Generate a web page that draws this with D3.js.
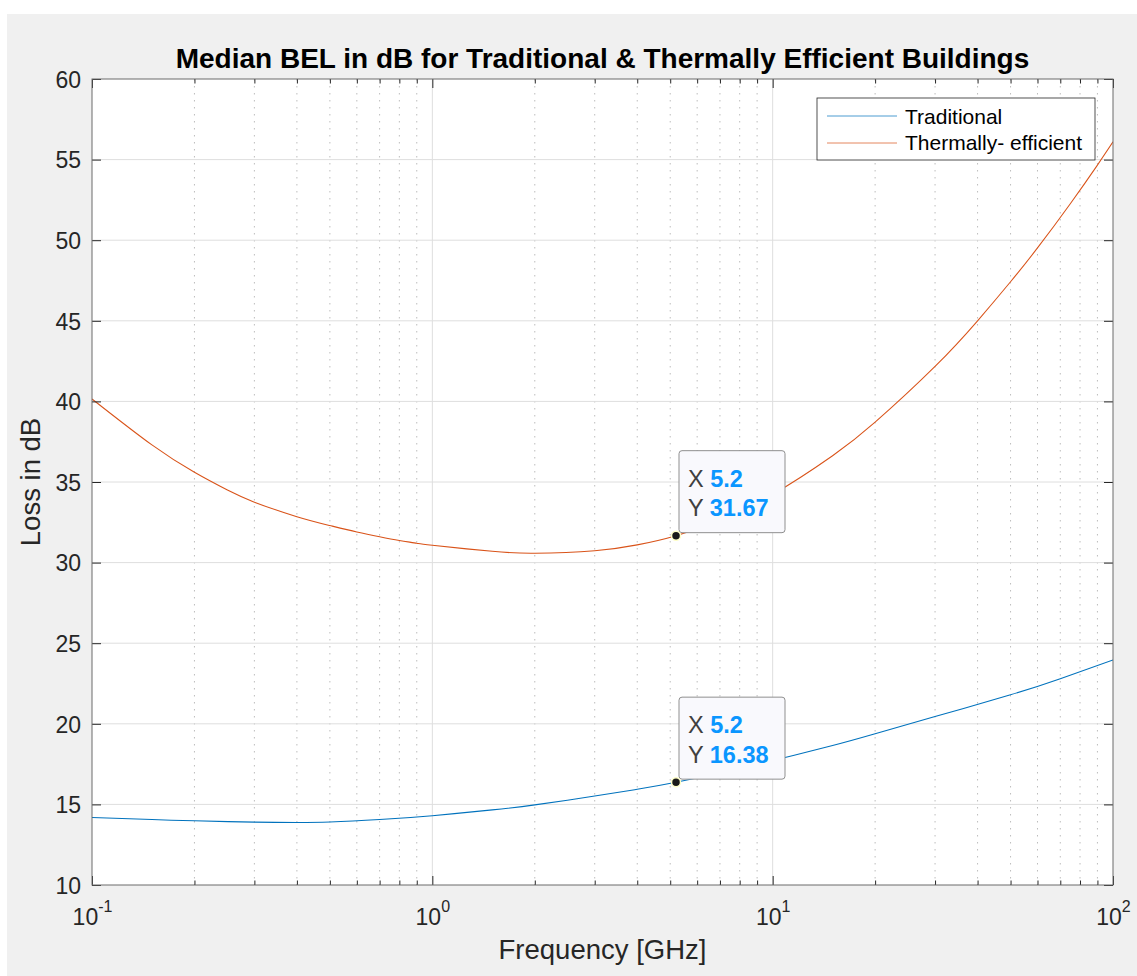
<!DOCTYPE html>
<html>
  <head>
    <meta charset="utf-8">
    <script src="https://cdn.jsdelivr.net/npm/d3@7"></script>
    <style>
      body { margin: 0; background: #fff; }
      svg { display: block; font-family: "Liberation Sans", Arial, Helvetica, sans-serif; }
    </style>
  </head>
  <body>
    <script>

    // Values (frequency in GHz, loss in dB)
    var freqTrad = [0.1, 0.15, 0.2, 0.3, 0.4, 0.5, 0.7, 1, 1.5, 2, 3, 4, 5.2, 7, 10, 15, 20, 30, 50, 70, 100];
    var lossTrad = [14.19, 14.06, 13.98, 13.9, 13.88, 13.91, 14.06, 14.3, 14.66, 14.97, 15.52, 15.94, 16.38, 16.95, 17.72, 18.65, 19.38, 20.45, 21.8, 22.8, 23.96];

    var freqTherm = [0.1, 0.15, 0.2, 0.25, 0.3, 0.4, 0.5, 0.6, 0.7, 0.8, 0.9, 1, 1.5, 2, 3, 4, 5.2, 7, 10, 15, 20, 30, 40, 50, 60, 75, 90, 100];
    var lossTherm = [40.15, 37.3, 35.6, 34.5, 33.75, 32.85, 32.3, 31.9, 31.6, 31.37, 31.2, 31.07, 30.7, 30.58, 30.74, 31.1, 31.67, 32.64, 34.23, 36.63, 38.71, 42.17, 45.0, 47.42, 49.52, 52.28, 54.66, 56.1];

    var seriesNames = ["Traditional", "Thermally- efficient"];
    var seriesColors = ["#0072BD", "#D95319"];

    // Data tips
    var tipFreq = 5.2;
    var tipValues = [16.38, 31.67];

    // Ticks
    var yTicks = [10, 15, 20, 25, 30, 35, 40, 45, 50, 55, 60];
    var xMajor = [0.1, 1, 10, 100];
    var xExp = ["-1", "0", "1", "2"];
    var xMinor = [0.2, 0.3, 0.4, 0.5, 0.6, 0.7, 0.8, 0.9,
                  2, 3, 4, 5, 6, 7, 8, 9,
                  20, 30, 40, 50, 60, 70, 80, 90];

    var W = 1137, H = 976;
    var pLeft = 92, pRight = 1113, pTop = 79, pBottom = 885;

    var svg = d3.select("body").append("svg")
      .attr("width", W)
      .attr("height", H);

    // Figure background
    svg.append("rect").attr("x", 7).attr("y", 14)
      .attr("width", W - 7).attr("height", H - 14)
      .attr("fill", "#f0f0f0");

    var x = d3.scaleLog().domain([0.1, 100]).range([pLeft, pRight]);
    var y = d3.scaleLinear().domain([10, 60]).range([pBottom, pTop]);

    // Plot area
    svg.append("rect")
      .attr("x", pLeft).attr("y", pTop)
      .attr("width", pRight - pLeft).attr("height", pBottom - pTop)
      .attr("fill", "#fff");

    // Grid
    var grid = svg.append("g");
    grid.selectAll(".minor").data(xMinor).enter().append("line")
      .attr("x1", d => x(d)).attr("x2", d => x(d))
      .attr("y1", pTop).attr("y2", pBottom)
      .attr("stroke", "#bdbdbd")
      .attr("stroke-width", 1)
      .attr("stroke-dasharray", "1.5 5.5");
    grid.selectAll(".xmaj").data([1, 10]).enter().append("line")
      .attr("x1", d => x(d)).attr("x2", d => x(d))
      .attr("y1", pTop).attr("y2", pBottom)
      .attr("stroke", "#dedede");
    grid.selectAll(".ymaj").data(yTicks.slice(1, -1)).enter().append("line")
      .attr("x1", pLeft).attr("x2", pRight)
      .attr("y1", d => y(d)).attr("y2", d => y(d))
      .attr("stroke", "#dedede");

    // Curves
    svg.append("clipPath").attr("id", "clip")
      .append("rect").attr("x", pLeft).attr("y", pTop)
      .attr("width", pRight - pLeft).attr("height", pBottom - pTop);

    var line = d3.line()
      .x(d => x(d[0]))
      .y(d => y(d[1]))
      .curve(d3.curveNatural);

    var series = [d3.zip(freqTrad, lossTrad), d3.zip(freqTherm, lossTherm)];
    svg.append("g").attr("clip-path", "url(#clip)")
      .selectAll("path").data(series).enter().append("path")
      .attr("d", line)
      .attr("fill", "none")
      .attr("stroke", (d, i) => seriesColors[i])
      .attr("stroke-width", 1.05);

    // Axes (ticks point inward, like MATLAB)
    function styleAxis(g) {
      g.select(".domain").remove();
      g.selectAll(".tick line").attr("stroke", "#262626");
    }

    svg.append("g")
      .attr("transform", `translate(${pLeft},0)`)
      .call(d3.axisLeft(y).tickValues(yTicks).tickSizeInner(-9).tickSizeOuter(0).tickPadding(11))
      .call(styleAxis)
      .call(g => g.selectAll("text")
        .attr("font-size", 23).attr("fill", "#262626")
        .attr("font-family", "Liberation Sans, Arial, sans-serif")
        .attr("dy", "0.36em"));

    svg.append("g")
      .attr("transform", `translate(${pRight},0)`)
      .call(d3.axisRight(y).tickValues(yTicks).tickSizeInner(-9).tickSizeOuter(0).tickFormat(""))
      .call(styleAxis);

    svg.append("g")
      .attr("transform", `translate(0,${pBottom})`)
      .call(d3.axisBottom(x).tickValues(xMinor).tickSizeInner(-4.5).tickSizeOuter(0).tickFormat(""))
      .call(styleAxis);
    svg.append("g")
      .attr("transform", `translate(0,${pTop})`)
      .call(d3.axisTop(x).tickValues(xMinor).tickSizeInner(-4.5).tickSizeOuter(0).tickFormat(""))
      .call(styleAxis);
    svg.append("g")
      .attr("transform", `translate(0,${pTop})`)
      .call(d3.axisTop(x).tickValues(xMajor).tickSizeInner(-9).tickSizeOuter(0).tickFormat(""))
      .call(styleAxis);

    var xAxis = svg.append("g")
      .attr("transform", `translate(0,${pBottom})`)
      .call(d3.axisBottom(x).tickValues(xMajor).tickSizeInner(-9).tickSizeOuter(0).tickFormat(""))
      .call(styleAxis);

    // Labels as 10^n with a raised exponent
    xAxis.selectAll(".tick text").each(function(d, i) {
      var t = d3.select(this)
        .attr("y", 40).attr("dy", null)
        .attr("font-size", 23).attr("fill", "#262626")
        .attr("font-family", "Liberation Sans, Arial, sans-serif");
      t.append("tspan").text("10");
      t.append("tspan").attr("dy", -13).attr("font-size", 16).text(xExp[i]);
    });

    // Box
    svg.append("rect")
      .attr("x", pLeft).attr("y", pTop)
      .attr("width", pRight - pLeft).attr("height", pBottom - pTop)
      .attr("fill", "none")
      .attr("stroke", "#6b6b6b")
      .attr("stroke-width", 1);

    // Title and axis labels
    svg.append("text")
      .attr("x", (pLeft + pRight) / 2).attr("y", 68)
      .attr("text-anchor", "middle")
      .attr("font-size", 28).attr("font-weight", "bold")
      .attr("fill", "#000")
      .text("Median BEL in dB for Traditional & Thermally Efficient Buildings");

    svg.append("text")
      .attr("x", (pLeft + pRight) / 2).attr("y", 959)
      .attr("text-anchor", "middle")
      .attr("font-size", 27.5).attr("fill", "#262626")
      .text("Frequency [GHz]");

    svg.append("text")
      .attr("transform", `translate(40,${(pTop + pBottom) / 2})rotate(-90)`)
      .attr("text-anchor", "middle")
      .attr("font-size", 27.5).attr("fill", "#262626")
      .text("Loss in dB");

    // Legend
    var legend = svg.append("g").attr("transform", "translate(817,98)");
    legend.append("rect")
      .attr("width", 278).attr("height", 62)
      .attr("fill", "#fff").attr("stroke", "#262626").attr("stroke-width", 0.8);
    seriesNames.forEach(function(name, i) {
      legend.append("line")
        .attr("x1", 10).attr("x2", 80)
        .attr("y1", 18 + i * 27).attr("y2", 18 + i * 27)
        .attr("stroke", seriesColors[i]).attr("stroke-opacity", 0.7).attr("stroke-width", 1);
      legend.append("text")
        .attr("x", 88).attr("y", 25.5 + i * 26)
        .attr("font-size", 21).attr("fill", "#000")
        .text(name);
    });

    // Data tips
    tipValues.forEach(function(v) {
      var px = x(tipFreq), py = y(v);
      var tip = svg.append("g").attr("transform", `translate(${px + 3},${py - 85})`);
      tip.append("rect")
        .attr("width", 106).attr("height", 82).attr("rx", 3)
        .attr("fill", "#f9f9fd").attr("stroke", "#8f8f8f").attr("stroke-width", 1);
      var lines = [["X ", String(tipFreq)], ["Y ", v.toFixed(2)]];
      lines.forEach(function(l, j) {
        var t = tip.append("text")
          .attr("x", 9).attr("y", 36 + j * 29.5)
          .attr("font-size", 23.5);
        t.append("tspan").attr("fill", "#404040").text(l[0]);
        t.append("tspan").attr("fill", "#0a96ff").attr("font-weight", "bold").text(l[1]);
      });
      svg.append("circle")
        .attr("cx", px).attr("cy", py).attr("r", 4.5)
        .attr("fill", "#1a1a1a")
        .attr("stroke", "#ffffc8").attr("stroke-width", 1.5);
    });

    </script>
  </body>
</html>
